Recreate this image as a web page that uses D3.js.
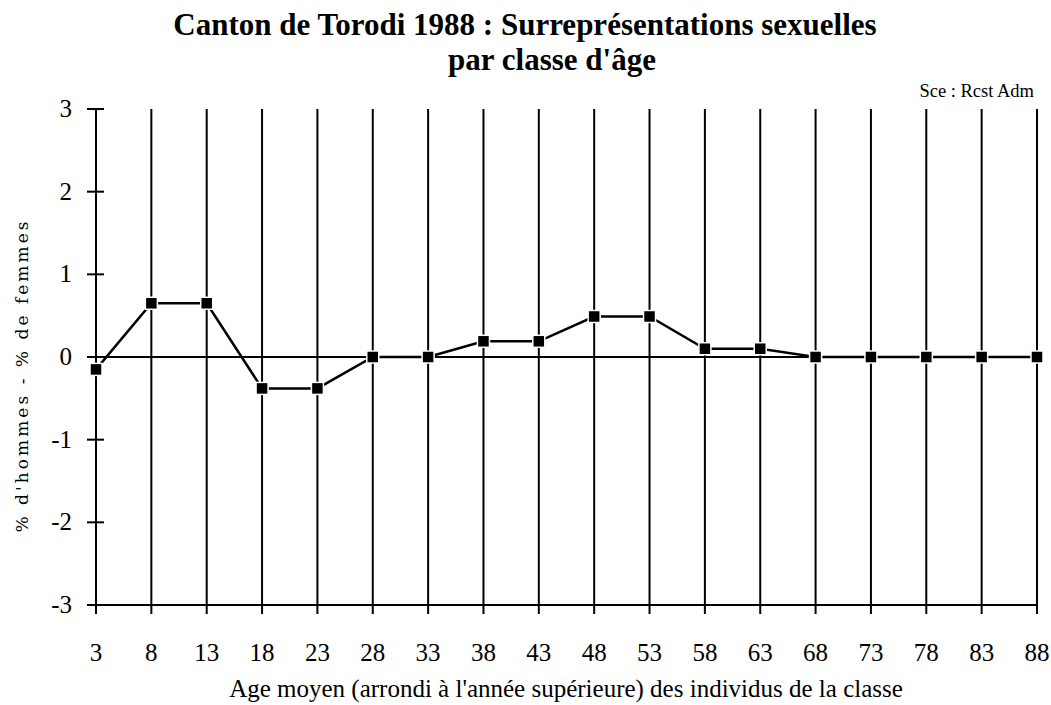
<!DOCTYPE html>
<html><head><meta charset="utf-8">
<script src="https://cdn.jsdelivr.net/npm/d3@7"></script>
<style>body{margin:0;background:#fff}svg{display:block}</style>
</head><body>
<script>
const ages = [3,8,13,18,23,28,33,38,43,48,53,58,63,68,73,78,83,88];
const values = [-0.15,0.65,0.65,-0.38,-0.38,0,0,0.19,0.19,0.49,0.49,0.1,0.1,0,0,0,0,0];
const yTicks = [-3,-2,-1,0,1,2,3];
const titleLines = ["Canton de Torodi 1988 : Surreprésentations sexuelles","par classe d'âge"];
const source = "Sce : Rcst Adm";
const xTitle = "Age moyen (arrondi à l'année supérieure) des individus de la classe";
const yTitle = "% d'hommes - % de femmes";

const W=1051,H=705;
const svg=d3.select("body").append("svg").attr("width",W).attr("height",H);
const x=d3.scalePoint().domain(ages).range([96,1037]);
const y=d3.scaleLinear().domain([-3,3]).range([605,109]);
const serif="'Liberation Serif','Times New Roman',serif";

// vertical grid lines
svg.append("g").selectAll("line").data(ages).join("line")
  .attr("x1",d=>x(d)).attr("x2",d=>x(d)).attr("y1",y(3)).attr("y2",y(-3)+9)
  .attr("stroke","#000").attr("stroke-width",2);
// y ticks
svg.append("g").selectAll("line").data(yTicks).join("line")
  .attr("x1",x(3)-9).attr("x2",x(3)+8).attr("y1",d=>y(d)).attr("y2",d=>y(d))
  .attr("stroke","#000").attr("stroke-width",2);
// zero line & bottom line
[0,-3].forEach(v=>{
  svg.append("line").attr("x1",x(3)-9).attr("x2",x(88)).attr("y1",y(v)).attr("y2",y(v))
    .attr("stroke","#000").attr("stroke-width",2);
});
// y tick labels
svg.append("g").selectAll("text").data(yTicks).join("text")
  .attr("x",72).attr("y",d=>y(d)+8).attr("text-anchor","end")
  .attr("font-family",serif).attr("font-size",25).text(d=>d);
// x tick labels
svg.append("g").selectAll("text").data(ages).join("text")
  .attr("x",d=>x(d)).attr("y",661).attr("text-anchor","middle")
  .attr("font-family",serif).attr("font-size",25).text(d=>d);
// series line
const line=d3.line().x((d,i)=>x(ages[i])).y(d=>y(d));
svg.append("path").datum(values).attr("d",line).attr("fill","none")
  .attr("stroke","#000").attr("stroke-width",2.5);
svg.append("g").selectAll("rect").data(values).join("rect")
  .attr("x",(d,i)=>x(ages[i])-6).attr("y",d=>y(d)-6).attr("width",12).attr("height",12)
  .attr("fill","#000").attr("stroke","#fff").attr("stroke-width",1.5);
// title
svg.append("g").selectAll("text").data(titleLines).join("text")
  .attr("x",(d,i)=>i===0?525:552).attr("y",(d,i)=>35+i*35).attr("text-anchor","middle")
  .attr("font-family",serif).attr("font-weight","bold").attr("font-size",31).text(d=>d);
svg.append("text").attr("x",1034).attr("y",97).attr("text-anchor","end")
  .attr("font-family",serif).attr("font-size",18.5).text(source);
svg.append("text").attr("x",566).attr("y",697).attr("text-anchor","middle")
  .attr("font-family",serif).attr("font-size",25).text(xTitle);
svg.append("text").attr("transform","translate(28,377) rotate(-90)").attr("text-anchor","middle")
  .attr("font-family","'DejaVu Serif',serif").attr("font-size",17)
  .attr("textLength",311).attr("lengthAdjust","spacing").text(yTitle);
</script>
</body></html>
